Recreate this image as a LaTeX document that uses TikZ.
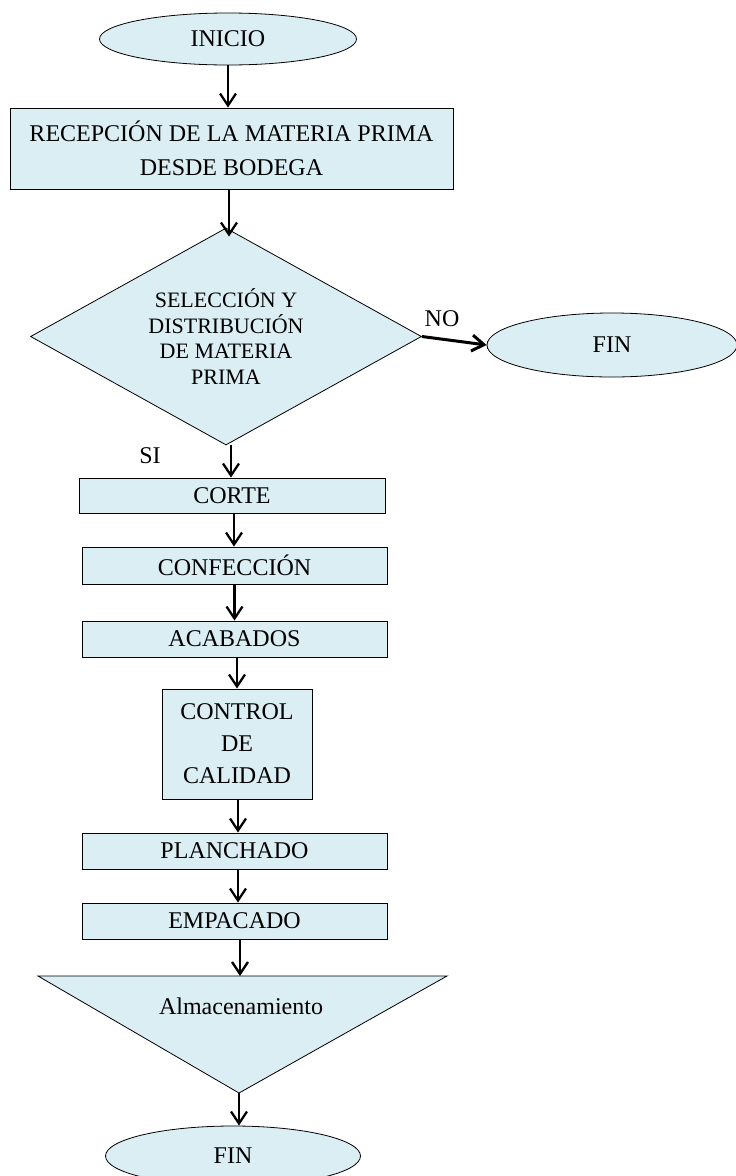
\documentclass[tikz,border=0pt]{standalone}
\usepackage{fontspec}
\setmainfont{Liberation Serif}
\usetikzlibrary{arrows.meta,shapes.geometric}
\definecolor{boxfill}{RGB}{219,238,244}
\begin{document}
\begin{tikzpicture}[x=1pt,y=-1pt,
  box/.style={draw=black,line width=0.8pt,fill=boxfill,inner sep=0pt,align=center,
    font=\fontsize{24}{32}\selectfont},
  term/.style={box,ellipse},
  arr/.style={line width=2.3pt,-{Straight Barb[length=12pt,width=16pt,line width=2.3pt]}},
  lbl/.style={font=\fontsize{24}{28}\selectfont,inner sep=0pt}]
\useasboundingbox (0,0) rectangle (736,1176);

% terminals
\node[term,minimum width=257pt,minimum height=52pt] (inicio) at (228,39) {INICIO};
\node[term,minimum width=250pt,minimum height=64pt] (finno) at (612,345) {FIN};
\node[term,minimum width=255pt,minimum height=60pt] (fin) at (233,1156) {FIN};

% process steps
\node[box,minimum width=443pt,minimum height=81pt,font=\fontsize{24}{34}\selectfont]
  (recepcion) at (231.5,148.5) {RECEPCIÓN DE LA MATERIA PRIMA\\DESDE BODEGA};
\node[box,diamond,aspect=1.8,minimum width=391pt,minimum height=217pt,
  font=\fontsize{22}{25.5}\selectfont]
  (seleccion) at (226,336.5) {SELECCIÓN Y\\DISTRIBUCIÓN\\DE MATERIA\\PRIMA};
\node[box,minimum width=306pt,minimum height=35pt] (corte) at (232,495.5) {CORTE};
\node[box,minimum width=305pt,minimum height=37pt] (confeccion) at (234.5,565.5) {CONFECCIÓN};
\node[box,minimum width=305pt,minimum height=36pt] (acabados) at (234.5,639) {ACABADOS};
\node[box,minimum width=150pt,minimum height=110pt] (control) at (237,744) {CONTROL\\DE\\CALIDAD};
\node[box,minimum width=305pt,minimum height=36pt] (planchado) at (234.5,851) {PLANCHADO};
\node[box,minimum width=305pt,minimum height=36pt] (empacado) at (234.5,921) {EMPACADO};

% storage triangle
\coordinate (almleft) at (38,976);
\coordinate (almright) at (447,976);
\coordinate (almapex) at (239,1093);
\coordinate (almtop) at (240,976);
\draw[line width=0.8pt,fill=boxfill] (almleft) -- (almright) -- (almapex) -- cycle;
\node[lbl] (almacen) at (241,1006) {Almacenamiento};

% branch labels
\node[lbl] (nolbl) at (442,319) {NO};
\node[lbl] (silbl) at (150,456) {SI};

% connectors
\draw[arr] (inicio.south) -- (inicio.south |- recepcion.north);
\draw[arr,shorten >=-9pt] ([xshift=-2.5pt]recepcion.south) -- ([xshift=-2.5pt]recepcion.south |- seleccion.north);
\draw[line width=3pt,-{Straight Barb[length=12pt,width=16pt,line width=3pt]}]
  (seleccion.east) -- (finno.west);
\draw[arr] ([xshift=5pt]seleccion.south) -- ([xshift=5pt]seleccion.south |- corte.north);
\draw[arr] ([xshift=2pt]corte.south) -- ([xshift=2pt]corte.south |- confeccion.north);
\draw[arr] (confeccion.south) -- (confeccion.south |- acabados.north);
\draw[arr] ([xshift=2.5pt]acabados.south) -- ([xshift=2.5pt]acabados.south |- control.north);
\draw[arr] ([xshift=1pt]control.south) -- ([xshift=1pt]control.south |- planchado.north);
\draw[arr] ([xshift=3.5pt]planchado.south) -- ([xshift=3.5pt]planchado.south |- empacado.north);
\draw[arr] ([xshift=5.5pt]empacado.south) -- ([xshift=5.5pt]empacado.south |- almtop);
\draw[arr] (almapex) -- (almapex |- fin.north);
\end{tikzpicture}
\end{document}
